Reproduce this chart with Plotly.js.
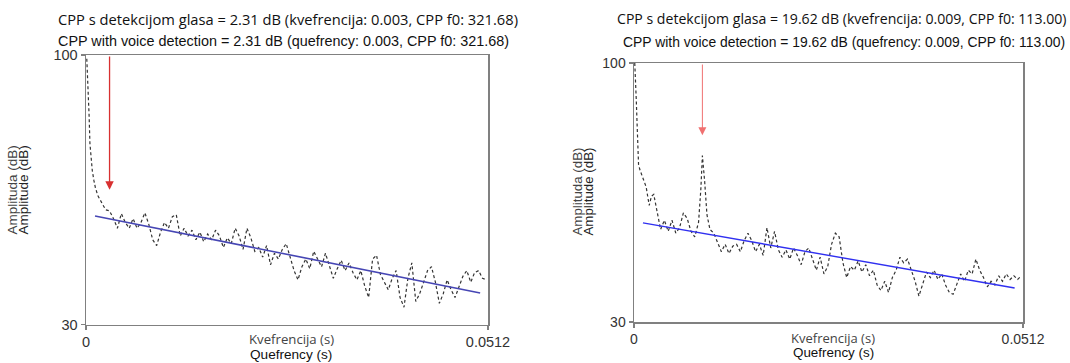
<!DOCTYPE html>
<html>
<head>
<meta charset="utf-8">
<script src="https://cdn.plot.ly/plotly-3.0.1.min.js"></script>
<style>html,body{margin:0;padding:0;background:#fff;}#chart{width:1070px;height:363px;}</style>
</head>
<body>
<div id="chart"></div>
<script>
// ---------- data ----------
const leftQuefrency = [0.0001,0.0002,0.0003,0.0004,0.0005,0.0006,0.0008,0.0010,0.0012,0.0015,0.0020,0.0025,0.0030,0.0035,0.0040,0.0045,0.0050,0.0055,0.0060,0.0065,0.0070,0.0075,0.0080,0.0085,0.0090,0.0095,0.0100,0.0105,0.0110,0.0115,0.0120,0.0125,0.0130,0.0135,0.0140,0.0145,0.0150,0.0155,0.0160,0.0165,0.0170,0.0175,0.0180,0.0185,0.0190,0.0195,0.0200,0.0205,0.0210,0.0215,0.0220,0.0225,0.0230,0.0235,0.0240,0.0245,0.0250,0.0255,0.0260,0.0265,0.0270,0.0275,0.0280,0.0285,0.0290,0.0295,0.0300,0.0305,0.0310,0.0315,0.0320,0.0325,0.0330,0.0335,0.0340,0.0345,0.0350,0.0355,0.0360,0.0365,0.0370,0.0375,0.0380,0.0385,0.0390,0.0395,0.0400,0.0405,0.0410,0.0415,0.0420,0.0425,0.0430,0.0435,0.0440,0.0445,0.0450,0.0455,0.0460,0.0465,0.0470,0.0475,0.0480,0.0485,0.0490,0.0495,0.0500,0.0505,0.0510];
const leftAmplitude = [99,95,89,84,77,74,70,67.5,65.5,63.5,61.5,59.8,59.5,57.5,55,58.8,56.5,55,57.5,55,56.5,59,56,52,50.5,54,56.5,55,58,58.5,53,55,53,54.5,52,54,51.5,53.5,52,54.5,53,50,52.5,51,55,53,49.5,55,52.5,49,50,47.5,50.5,45.5,48.5,47,49.5,51,47.5,44,41.6,45,47,44.5,49,47,45,48.5,45,42,44.5,46.7,44,46,43.5,41.6,44,40,37,47,48,43,41,39,42,44,37,34.5,42,46,36,38,41,44,45,41,35.5,38,41.6,39,37,40,42.5,44,41,43.5,44,42,41.6];
const leftFitQuefrency = [0.00115, 0.0502];
const leftFitAmplitude = [58.2, 38.2];
const leftPeakQuefrency = 0.003;
const leftArrowTip = 65;

const rightQuefrency = [0.0001,0.0002,0.0003,0.0004,0.0005,0.0006,0.0008,0.0010,0.0013,0.0016,0.0020,0.0023,0.0026,0.0029,0.0032,0.0035,0.0040,0.0045,0.0050,0.0055,0.0060,0.0065,0.0070,0.0075,0.0080,0.0085,0.0088,0.0090,0.0093,0.0096,0.0100,0.0105,0.0110,0.0115,0.0120,0.0125,0.0130,0.0135,0.0140,0.0145,0.0150,0.0155,0.0160,0.0165,0.0170,0.0175,0.0180,0.0185,0.0190,0.0195,0.0200,0.0205,0.0210,0.0215,0.0220,0.0225,0.0230,0.0235,0.0240,0.0245,0.0250,0.0255,0.0260,0.0265,0.0270,0.0275,0.0280,0.0285,0.0290,0.0295,0.0300,0.0305,0.0310,0.0315,0.0320,0.0325,0.0330,0.0335,0.0340,0.0345,0.0350,0.0355,0.0360,0.0365,0.0370,0.0375,0.0380,0.0385,0.0390,0.0395,0.0400,0.0405,0.0410,0.0415,0.0420,0.0425,0.0430,0.0435,0.0440,0.0445,0.0450,0.0455,0.0460,0.0465,0.0470,0.0475,0.0480,0.0485,0.0490,0.0495,0.0500,0.0505,0.0510];
const rightAmplitude = [100,96,90,84,78,72.5,71,70,68.5,66.5,61.5,64,64.5,61.5,57.5,55,57.5,54.5,57.5,54,55.5,59.5,58,54.5,53,57,66,75,68,59,55,54,51.5,49,51,48.5,50.5,51,49,52,54,52,49,51,48,55.5,50,54.5,49.5,47.5,49.5,47,50,48,45.5,49,50,47,44,47.5,43,45,51,54,53,46,42,45,44,46.5,43.5,45.5,42.5,44,40,38.5,41,38,42,44,47.5,46,47,44,41,37,40,43.5,42,44,41.5,43,40,38,37.5,40,43,41,44,43,47,44,42,39.5,41,40,42.5,41,43,41.5,42.5,41.5,42.5];
const rightFitQuefrency = [0.00118, 0.0501];
const rightFitAmplitude = [56.8, 39.2];
const rightPeakQuefrency = 0.009;
const rightArrowTip = 80.5;

const yTickValues = [30, 100];
const yTickLabels = ['30', '100'];
const xTickValues = [0, 0.0512];
const xTickLabels = ['0', '0.0512'];

const leftTitleSr = 'CPP s detekcijom glasa = 2.31 dB (kvefrencija: 0.003, CPP f0: 321.68)';
const leftTitleEn = 'CPP with voice detection = 2.31 dB (quefrency: 0.003, CPP f0: 321.68)';
const rightTitleSr = 'CPP s detekcijom glasa = 19.62 dB (kvefrencija: 0.009, CPP f0: 113.00)';
const rightTitleEn = 'CPP with voice detection = 19.62 dB (quefrency: 0.009, CPP f0: 113.00)';
const yTitleSr = 'Amplituda (dB)';
const yTitleEn = 'Amplitude (dB)';
const xTitleSr = 'Kvefrencija (s)';
const xTitleEn = 'Quefrency (s)';

// ---------- helpers ----------
const W = 1070, H = 363;
const px = v => v / W;
const py = v => 1 - v / H;
const ARIAL = 'Liberation Sans, Arial, sans-serif';
const SEGOE = 'Open Sans, Noto Sans, sans-serif';

function axisStyle(extra, fontSize) {
  return Object.assign({
    showline: true, mirror: true, linecolor: '#808080', linewidth: 1.5,
    ticks: 'outside', ticklen: 4, tickwidth: 1.3, tickcolor: '#808080',
    showgrid: false, zeroline: false, fixedrange: true,
    tickfont: {family: ARIAL, size: fontSize, color: '#333'}
  }, extra);
}

const traces = [
  {x: leftQuefrency, y: leftAmplitude, xaxis: 'x', yaxis: 'y', mode: 'lines',
   line: {color: '#333', width: 1.2, dash: '3px,2.5px'}, hoverinfo: 'skip'},
  {x: leftFitQuefrency, y: leftFitAmplitude, xaxis: 'x', yaxis: 'y', mode: 'lines',
   line: {color: '#4646b4', width: 1.6}, hoverinfo: 'skip'},
  {x: rightQuefrency, y: rightAmplitude, xaxis: 'x2', yaxis: 'y2', mode: 'lines',
   line: {color: '#333', width: 1.2, dash: '3px,2.5px'}, hoverinfo: 'skip'},
  {x: rightFitQuefrency, y: rightFitAmplitude, xaxis: 'x2', yaxis: 'y2', mode: 'lines',
   line: {color: '#3030f0', width: 1.4}, hoverinfo: 'skip'}
];

function txt(text, x, y, font, extra) {
  return Object.assign({text: text, x: px(x), y: py(y), xref: 'paper', yref: 'paper',
    showarrow: false, xanchor: 'center', yanchor: 'middle', borderpad: 0, font: font}, extra || {});
}

const annotations = [
  txt(leftTitleSr, 57, 19, {family: SEGOE, size: 14.7, color: '#111'}, {xanchor: 'left'}),
  txt(leftTitleEn, 57, 41.5, {family: ARIAL, size: 14.4, color: '#111'}, {xanchor: 'left'}),
  txt(rightTitleSr, 616, 19, {family: SEGOE, size: 14.1, color: '#111'}, {xanchor: 'left'}),
  txt(rightTitleEn, 622, 42, {family: ARIAL, size: 13.9, color: '#111'}, {xanchor: 'left'}),
  txt(yTitleSr, 12.5, 190, {family: ARIAL, size: 13.5, color: '#444'}, {textangle: -90}),
  txt(yTitleEn, 23.5, 190, {family: ARIAL, size: 13.5, color: '#222'}, {textangle: -90}),
  txt(yTitleSr, 576.5, 192, {family: ARIAL, size: 13.3, color: '#444'}, {textangle: -90}),
  txt(yTitleEn, 587.5, 192, {family: ARIAL, size: 13.3, color: '#222'}, {textangle: -90}),
  txt(xTitleSr, 291, 339, {family: SEGOE, size: 13.2, color: '#444'}),
  txt(xTitleEn, 291, 354.5, {family: ARIAL, size: 13.6, color: '#111'}),
  txt(xTitleSr, 833, 337.5, {family: SEGOE, size: 13, color: '#444'}),
  txt(xTitleEn, 833, 352.5, {family: ARIAL, size: 13.4, color: '#111'}),
  {x: leftPeakQuefrency, y: leftArrowTip, xref: 'x', yref: 'y', ax: leftPeakQuefrency, ay: 100,
   axref: 'x', ayref: 'y', showarrow: true, arrowhead: 2, arrowsize: 1.3, arrowwidth: 1.3,
   arrowcolor: '#d83030', text: ''},
  {x: rightPeakQuefrency, y: rightArrowTip, xref: 'x2', yref: 'y2', ax: rightPeakQuefrency, ay: 100,
   axref: 'x2', ayref: 'y2', showarrow: true, arrowhead: 2, arrowsize: 1.6, arrowwidth: 1,
   arrowcolor: '#f07070', text: ''}
];

const layout = {
  width: W, height: H, margin: {l: 0, r: 0, t: 0, b: 0},
  paper_bgcolor: '#fff', plot_bgcolor: '#fff', showlegend: false,
  xaxis: axisStyle({domain: [px(86), px(488)], range: [0, 0.0512], tickvals: xTickValues, ticktext: xTickLabels, anchor: 'y'}, 14.5),
  yaxis: axisStyle({domain: [py(324.5), py(55)], range: [30, 100], tickvals: yTickValues, ticktext: yTickLabels, anchor: 'x'}, 14.5),
  xaxis2: axisStyle({domain: [px(634), px(1023)], range: [0, 0.0512], tickvals: xTickValues, ticktext: xTickLabels, anchor: 'y2'}, 14),
  yaxis2: axisStyle({domain: [py(322), py(63)], range: [30, 100], tickvals: yTickValues, ticktext: yTickLabels, anchor: 'x2'}, 14),
  annotations: annotations
};

Plotly.newPlot('chart', traces, layout, {displayModeBar: false, staticPlot: true});
</script>
</body>
</html>
